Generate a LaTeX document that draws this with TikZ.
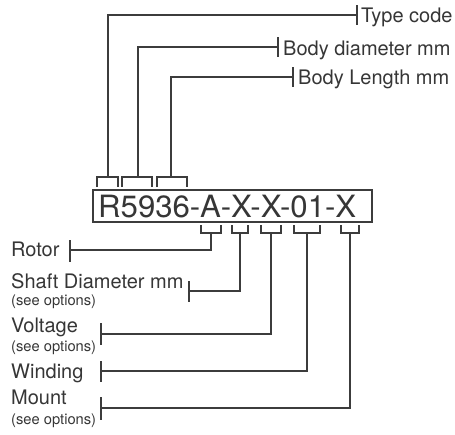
\documentclass[tikz,border=0pt]{standalone}
\usepackage{graphicx}
\usepackage{fontspec}
\setmainfont{TeX Gyre Heros}
\definecolor{ink}{HTML}{363636}
\definecolor{wire}{HTML}{3C3C3C}
\begin{document}
\begin{tikzpicture}[x=1pt,y=-1pt,
  lab/.style={inner sep=0pt,anchor=base west,text=ink,font=\fontsize{20}{24}\selectfont},
  small/.style={inner sep=0pt,anchor=base west,text=ink,font=\fontsize{14.7}{17}\selectfont},
  code/.style={inner sep=0pt,anchor=base west,text=ink,font=\fontsize{30.7}{36}\selectfont},
  wireline/.style={draw=wire,line width=1.2pt},
  tickmark/.style={draw=wire,line width=1.2pt}]
\useasboundingbox (0,0) rectangle (455,434);

% main code box
\draw[wireline] (93,190) rectangle (372,222);
\node[code] (codetext) at (98,217) {\resizebox{258pt}{\height}{R5936-A-X-X-01-X}};

% top brackets
\draw[wireline] (97,187) |- (118,177) -- (118,187);
\draw[wireline] (122,187) |- (152,177) -- (152,187);
\draw[wireline] (157,187) |- (187,177) -- (187,187);
\coordinate (s1) at (108,177);
\coordinate (s2) at (138,177);
\coordinate (s3) at (171,177);

% top labels
\coordinate (t1) at (357,15);
\coordinate (t2) at (278,47);
\coordinate (t3) at (293,77);
\node[lab] (type) at (361,22) {Type code};
\node[lab] (diam) at (283,55) {Body diameter mm};
\node[lab] (len) at (298,84) {Body Length mm};
\draw[wireline] (s1) |- (t1);
\draw[wireline] (s2) |- (t2);
\draw[wireline] (s3) |- (t3);
\draw[tickmark] (357,5) -- (357,25);
\draw[tickmark] (278,37) -- (278,57);
\draw[tickmark] (293,67) -- (293,87);

% bottom brackets
\draw[wireline] (201,225) |- (221,233) -- (221,225);
\draw[wireline] (232,225) |- (248,233) -- (248,225);
\draw[wireline] (261,225) |- (281,233) -- (281,225);
\draw[wireline] (294,225) |- (320,233) -- (320,225);
\draw[wireline] (341,225) |- (359,233) -- (359,225);
\coordinate (b1) at (211,233);
\coordinate (b2) at (240,233);
\coordinate (b3) at (271,233);
\coordinate (b4) at (307,233);
\coordinate (b5) at (350,233);

% bottom labels
\node[lab] (rotor) at (11,256) {Rotor};
\node[lab] (shaft) at (11,288) {Shaft Diameter mm};
\node[small] (shaftopt) at (11,305) {(see options)};
\node[lab] (volt) at (11,332) {Voltage};
\node[small] (voltopt) at (11,351) {(see options)};
\node[lab] (wind) at (11,378) {Winding};
\node[lab] (mount) at (11,404) {Mount};
\node[small] (mountopt) at (11,424) {(see options)};

\coordinate (r1) at (70,250);
\coordinate (r2) at (189,291);
\coordinate (r3) at (101,334);
\coordinate (r4) at (101,371);
\coordinate (r5) at (101,408);
\draw[wireline] (b1) |- (r1);
\draw[wireline] (b2) |- (r2);
\draw[wireline] (b3) |- (r3);
\draw[wireline] (b4) |- (r4);
\draw[wireline] (b5) |- (r5);
\draw[tickmark] (70,240) -- (70,262);
\draw[tickmark] (189,281) -- (189,302);
\draw[tickmark] (101,323) -- (101,345);
\draw[tickmark] (101,361) -- (101,382);
\draw[tickmark] (101,397) -- (101,420);
\end{tikzpicture}
\end{document}
